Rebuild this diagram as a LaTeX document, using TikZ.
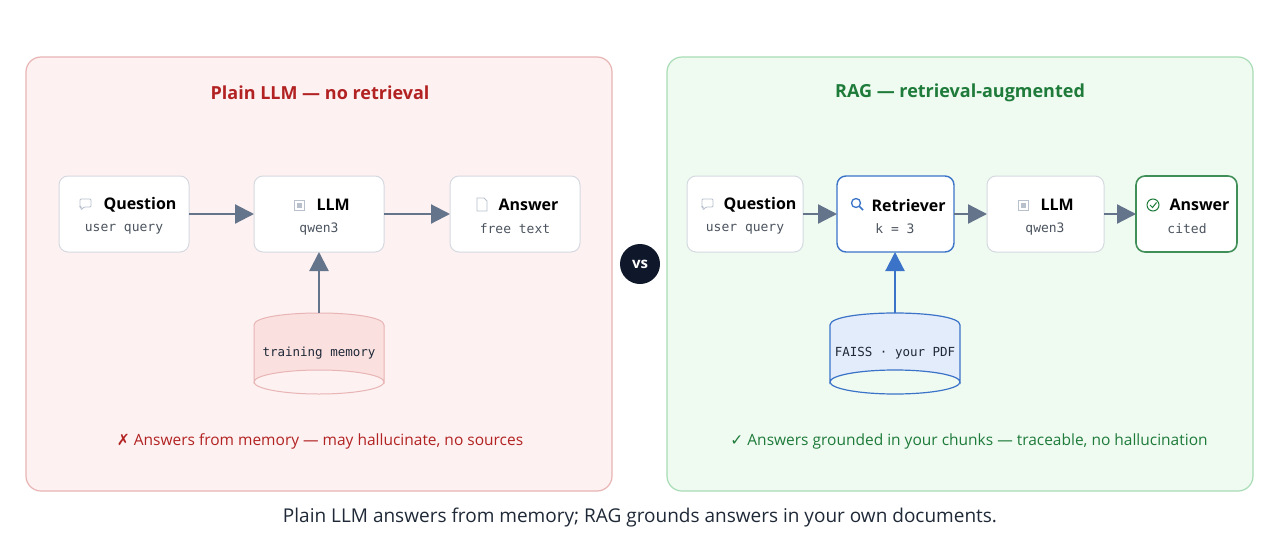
\documentclass[tikz,border=0pt]{standalone}
\usepackage{fontspec}
\setmainfont{Open Sans}
\setmonofont{DejaVu Sans Mono}
\newfontfamily\symf{DejaVu Sans}
\usetikzlibrary{arrows.meta}
\definecolor{redbg}{HTML}{FDF1F1}\definecolor{redbd}{HTML}{E8B4B4}
\definecolor{grnbg}{HTML}{EFFAF1}\definecolor{grnbd}{HTML}{A8DCB5}
\definecolor{redt}{HTML}{B22222}\definecolor{grnt}{HTML}{1E7B3A}
\definecolor{nodebd}{HTML}{D5DAE0}\definecolor{arr}{HTML}{64748B}
\definecolor{blu}{HTML}{3B73C8}\definecolor{blubg}{HTML}{E3ECFA}
\definecolor{cylr}{HTML}{FBE0E0}\definecolor{cylrbd}{HTML}{E8B4B4}
\definecolor{ic}{HTML}{B8C0CC}\definecolor{navy}{HTML}{0F172A}
\definecolor{txt}{HTML}{1F2937}
\tikzset{
 box/.style={draw=nodebd,line width=1pt,fill=white,rounded corners=9pt},
 ttl/.style={font=\bfseries\fontsize{16}{19}\selectfont,text=black},
 sub/.style={font=\ttfamily\fontsize{13}{15}\selectfont,text=txt!80},
 conn/.style={draw=arr,line width=2.2pt,-{Triangle[length=19pt,width=19pt]}},
}
\begin{document}
\begin{tikzpicture}[x=1pt,y=-1pt]
\useasboundingbox[fill=white] (0,0) rectangle (1280,549);
\draw[fill=redbg,draw=redbd,line width=1.2pt,rounded corners=15pt] (26,57) rectangle (612,491);
\draw[fill=grnbg,draw=grnbd,line width=1.2pt,rounded corners=15pt] (667,57) rectangle (1253,491);
\node[font=\bfseries\fontsize{18}{21}\selectfont,text=redt] (t1) at (320,93) {Plain LLM — no retrieval};
\node[font=\bfseries\fontsize{18}{21}\selectfont,text=grnt] (t2) at (960,93) {RAG — retrieval-augmented};
% left nodes
\draw[box] (59,176) rectangle (189,252);
\draw[box] (254,176) rectangle (384,252);
\draw[box] (450,176) rectangle (580,252);
\node[ttl,anchor=west] (lq1) at (100,205) {Question};
\node[sub] (lq2) at (124,229) {user query};
\node[ttl,anchor=west] (ll1) at (313,205) {LLM};
\node[sub] (ll2) at (319,229) {qwen3};
\node[ttl,anchor=west] (la1) at (495,205) {Answer};
\node[sub] (la2) at (515,229) {free text};
% icons left
\draw[ic,line width=0.8pt,rounded corners=1pt] (80,199)--(91,199)--(91,207)--(84,207)--(81,210)--(81,207)--(80,207)--cycle;
\draw[ic,line width=0.8pt] (294,200) rectangle (304,210); \draw[ic,fill=ic] (297,203) rectangle (301,207);
\draw[ic,line width=0.8pt] (477,198)--(484,198)--(487,201)--(487,211)--(477,211)--cycle;
% left cylinder
\draw[fill=cylr,draw=cylrbd,line width=1pt] (254,325) .. controls (254,309) and (384,309) .. (384,325) -- (384,382) arc[start angle=0,end angle=-180,x radius=65,y radius=12] -- cycle;
\draw[draw=cylrbd,line width=1pt] (254,382) arc[start angle=180,end angle=0,x radius=65,y radius=12];
\node[font=\ttfamily\fontsize{12.5}{15}\selectfont,text=txt] (lc) at (319,353) {training memory};
\draw[conn] (189,214) -- (254,214);
\draw[conn] (384,214) -- (450,214);
\draw[conn] (319,313) -- (319,252);
% right nodes
\draw[box] (687,176) rectangle (803,252);
\draw[box,draw=blu,line width=1.4pt] (837,176) rectangle (954,252);
\draw[box] (987,176) rectangle (1104,252);
\draw[box,draw=grnt!85,line width=1.6pt] (1136,176) rectangle (1237,252);
\node[ttl,anchor=west] (rq1) at (720,205) {Question};
\node[sub] (rq2) at (745,229) {user query};
\node[ttl,anchor=west] (rr1) at (868,205) {Retriever};
\node[sub] (rr2) at (895,229) {k = 3};
\node[ttl,anchor=west] (rl1) at (1037,205) {LLM};
\node[sub] (rl2) at (1045,229) {qwen3};
\node[ttl,anchor=west] (ra1) at (1166,205) {Answer};
\node[sub] (ra2) at (1187,229) {cited};
\draw[ic,line width=0.8pt,rounded corners=1pt] (702,199)--(713,199)--(713,207)--(706,207)--(703,210)--(703,207)--(702,207)--cycle;
\draw[blu,line width=1.3pt] (856,203) circle (4.5); \draw[blu,line width=1.5pt] (859.5,206.5)--(863,210);
\draw[ic,line width=0.8pt] (1018,200) rectangle (1028,210); \draw[ic,fill=ic] (1021,203) rectangle (1025,207);
\draw[grnt,line width=1pt] (1153,205) circle (6); \draw[grnt,line width=1pt] (1150,205)--(1152.5,207.5)--(1156.5,202.5);
\draw[fill=blubg,draw=blu,line width=1.2pt] (830,325) .. controls (830,309) and (960,309) .. (960,325) -- (960,382) arc[start angle=0,end angle=-180,x radius=65,y radius=12] -- cycle;
\draw[draw=blu,line width=1.2pt] (830,382) arc[start angle=180,end angle=0,x radius=65,y radius=12];
\node[font=\ttfamily\fontsize{12.5}{15}\selectfont,text=txt] (rc) at (895,353) {FAISS · your PDF};
\draw[conn] (803,214) -- (837,214);
\draw[conn] (954,214) -- (987,214);
\draw[conn] (1104,214) -- (1136,214);
\draw[conn,draw=blu] (895,313) -- (895,252);
% vs
\node[circle,fill=navy,minimum size=40pt,inner sep=0pt,text=white,font=\bfseries\fontsize{15}{17}\selectfont] (vs) at (640,264) {vs};
% notes
\node[text=redt,font=\fontsize{15.5}{18}\selectfont] (n1) at (320,441) {{\symf ✗} Answers from memory — may hallucinate, no sources};
\node[text=grnt,font=\fontsize{15.5}{18}\selectfont] (n2) at (969,441) {{\symf ✓} Answers grounded in your chunks — traceable, no hallucination};
\node[text=txt,font=\fontsize{19}{22}\selectfont] (cap) at (640,518) {Plain LLM answers from memory; RAG grounds answers in your own documents.};
\end{tikzpicture}
\end{document}
